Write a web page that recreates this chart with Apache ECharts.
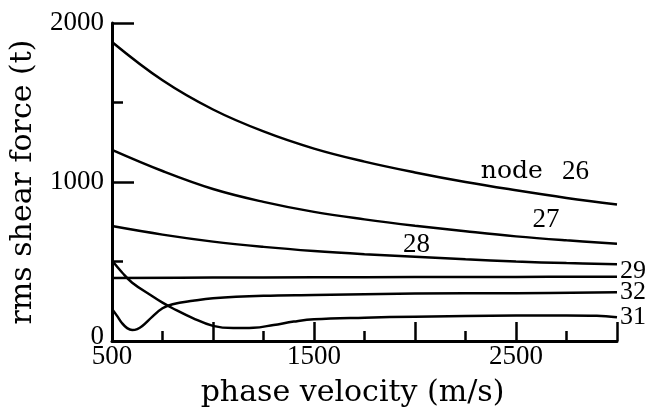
<!DOCTYPE html>
<html>
<head>
<meta charset="utf-8">
<script src="https://cdn.jsdelivr.net/npm/echarts@6/dist/echarts.min.js"></script>
<style>
  html, body { margin: 0; padding: 0; background: #fff; }
  #chart { width: 648px; height: 413px; }
</style>
</head>
<body>
<div id="chart"></div>
<script>
// Phase velocity (m/s) sample points shared by the smooth curves
const velSmooth = [500, 750, 1000, 1250, 1500, 1750, 2000, 2250, 2500, 2750, 3000];
const force26 = [1881, 1640, 1456, 1318, 1210, 1128, 1060, 1000, 948, 900, 858];
const force27 = [1202, 1069, 956, 875, 812, 765, 725, 690, 658, 633, 612];
const force28 = [723, 669, 625, 592, 566, 546, 530, 514, 500, 490, 483];

const vel29 = [500, 1000, 1500, 2000, 2500, 3000];
const force29 = [396, 399, 401, 402, 403, 404];

const vel32 = [500, 525, 550, 575, 600, 625, 650, 700, 750, 800, 900, 1000, 1250, 1500, 2000, 2500, 3000];
const force32 = [202, 158, 112, 81, 69, 75, 94, 153, 206, 231, 253, 269, 284, 289, 299, 301, 306];

const vel31 = [500, 550, 600, 700, 750, 800, 900, 1000, 1100, 1200, 1300, 1400, 1500, 1750, 2000, 2500, 2750, 2900, 3000];
const force31 = [506, 431, 367, 281, 241, 206, 144, 95, 81, 83, 101, 122, 137, 147, 153, 160, 161, 159, 150];

// Axis tick labels that are printed
const xTickLabels = [500, 1500, 2500];
const yTickLabels = [0, 1000, 2000];

// In-plot curve labels: [text, velocity, force]
const curveLabels = [
  ['node', 2479, 1066],
  ['26', 2795, 1066],
  ['27', 2649, 759],
  ['28', 2007, 606]
];

const pairs = (xs, ys) => xs.map((x, i) => [x, ys[i]]);

const numFont = 'Liberation Serif';
const wordFont = 'DejaVu Serif';
const ink = '#000';

function curve(name, xs, ys, endText) {
  const s = {
    name: name,
    type: 'line',
    data: pairs(xs, ys),
    smooth: 0.4,
    symbol: 'none',
    lineStyle: { color: ink, width: 2.5 },
    silent: true,
    z: 3
  };
  if (endText) {
    s.endLabel = {
      show: true,
      formatter: endText,
      color: ink,
      fontFamily: numFont,
      fontSize: 26,
      distance: 3,
      offset: [0, endText === '29' ? -6 : 0]
    };
  }
  return s;
}

const chart = echarts.init(document.getElementById('chart'), null, { renderer: 'canvas' });

const option = {
  animation: false,
  backgroundColor: '#fff',
  grid: { left: 111, right: 31, top: 23, bottom: 69, containLabel: false },
  xAxis: {
    type: 'value',
    min: 500,
    max: 3000,
    interval: 500,
    name: 'phase velocity (m/s)',
    nameLocation: 'middle',
    nameGap: 37,
    nameTextStyle: { color: ink, fontFamily: wordFont, fontSize: 30, padding: [0, 24, 0, 0] },
    axisLine: { show: true, onZero: false, lineStyle: { color: ink, width: 3 } },
    axisTick: { show: true, inside: true, length: 19, lineStyle: { color: ink, width: 2.5 } },
    minorTick: { show: true, splitNumber: 2, length: 10, lineStyle: { color: ink, width: 2.5 } },
    axisLabel: {
      color: ink, fontFamily: numFont, fontSize: 27, margin: 2,
      formatter: v => (xTickLabels.includes(v) ? String(v) : '')
    },
    splitLine: { show: false },
    minorSplitLine: { show: false }
  },
  yAxis: {
    type: 'value',
    min: 0,
    max: 2000,
    interval: 1000,
    name: 'rms shear force (t)',
    nameLocation: 'middle',
    nameGap: 74,
    nameTextStyle: { color: ink, fontFamily: wordFont, fontSize: 30 },
    axisLine: { show: true, onZero: false, lineStyle: { color: ink, width: 3 } },
    axisTick: { show: true, inside: true, length: 22, lineStyle: { color: ink, width: 2.5 } },
    minorTick: { show: true, splitNumber: 2, length: 11, lineStyle: { color: ink, width: 2.5 } },
    axisLabel: {
      color: ink, fontFamily: numFont, fontSize: 27, margin: 8,
      // the zero label sits a little above the corner
      formatter: v => {
        if (!yTickLabels.includes(v)) return '';
        return v === 0 ? '{z|0}' : String(v);
      },
      rich: {
        z: { fontFamily: numFont, fontSize: 27, color: ink, padding: [0, 0, 8, 0] }
      }
    },
    splitLine: { show: false },
    minorSplitLine: { show: false }
  },
  series: [
    curve('node 26', velSmooth, force26),
    curve('27', velSmooth, force27),
    curve('28', velSmooth, force28),
    curve('29', vel29, force29, '29'),
    curve('32', vel32, force32, '32'),
    curve('31', vel31, force31, '31'),
    {
      type: 'scatter',
      data: curveLabels.map(d => [d[1], d[2], d[0]]),
      symbolSize: 0,
      itemStyle: { opacity: 1 },
      silent: true,
      z: 5,
      label: {
        show: true,
        position: 'inside',
        // words use the wider serif, digits the narrow one
        formatter: p => {
          const t = p.data[2];
          return /^\d+$/.test(t) ? '{d|' + t + '}' : '{w|' + t + '}';
        },
        color: ink,
        opacity: 1,
        rich: {
          d: { fontFamily: numFont, fontSize: 27, color: ink },
          w: { fontFamily: wordFont, fontSize: 25, color: ink }
        }
      }
    }
  ]
};

chart.setOption(option);
</script>
</body>
</html>
